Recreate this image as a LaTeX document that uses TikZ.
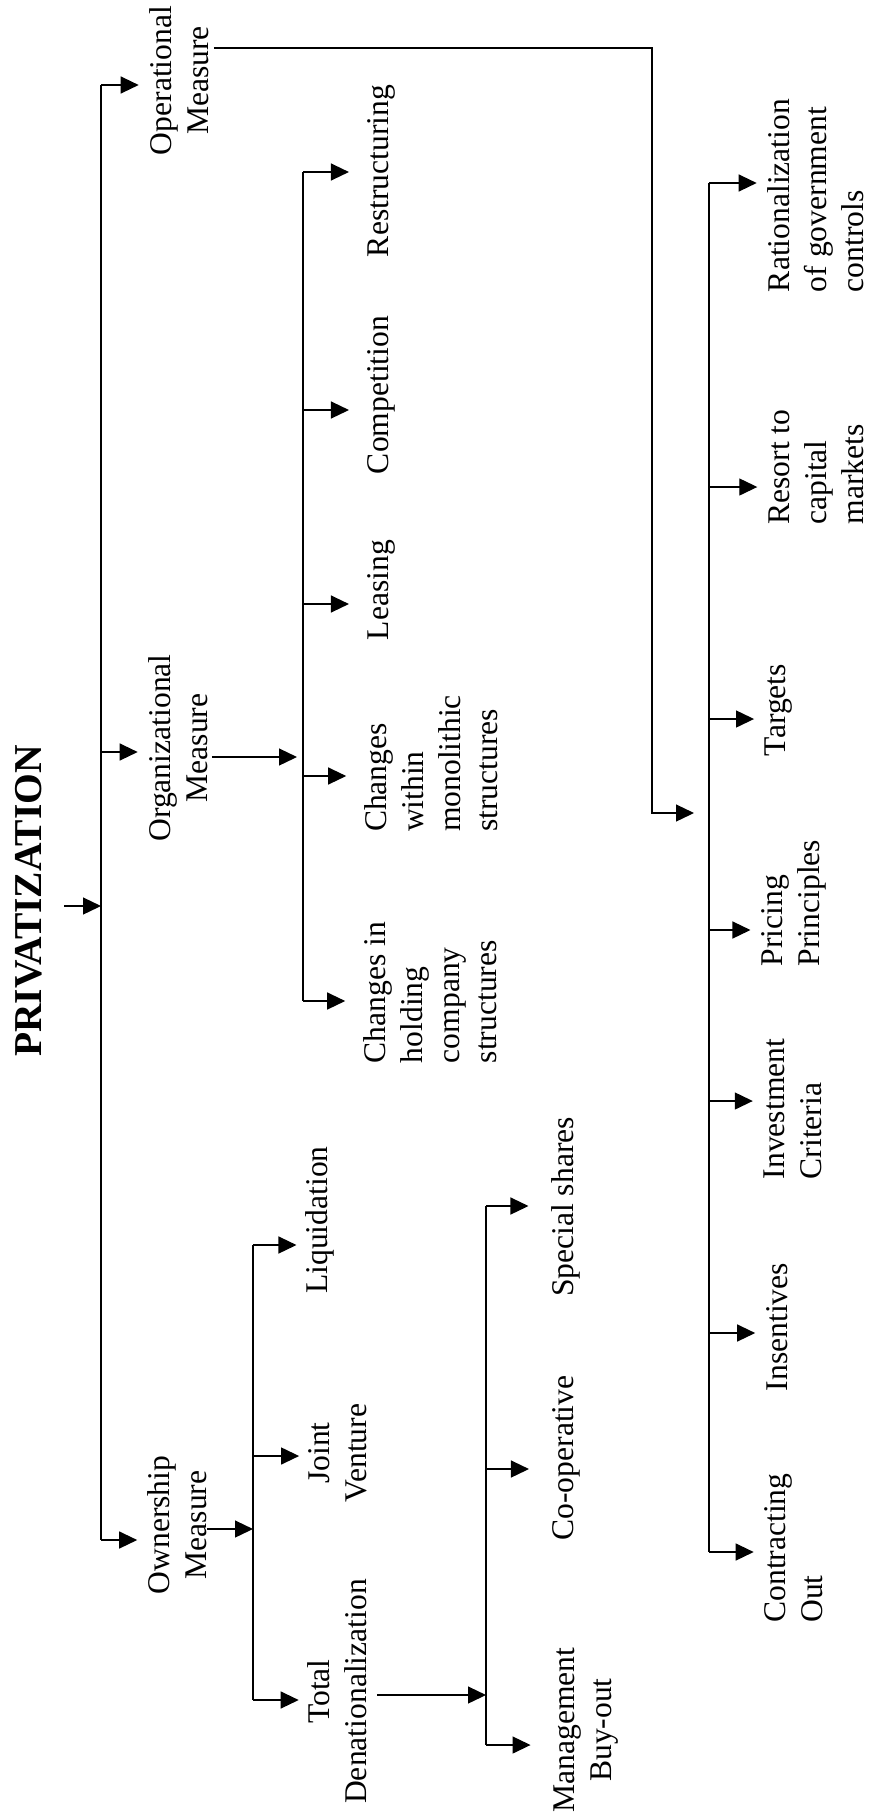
\documentclass[tikz,border=0pt]{standalone}
\usepackage{fontspec}
\setmainfont{Liberation Serif}
\usetikzlibrary{arrows.meta}
\begin{document}
\begin{tikzpicture}[x=1pt,y=-1pt,
  lbl/.style={rotate=90,inner sep=0pt,font=\fontsize{31.6}{37}\selectfont},
  lblc/.style={lbl,align=center},
  lbll/.style={lbl,align=left},
  ln/.style={line width=1.3pt},
  arr/.style={ln,-{Triangle[length=18pt,width=17pt]}},
  arrA/.style={arr,shorten >=10.5pt},
  arrB/.style={arr,shorten >=18pt},
  arrC/.style={arr,shorten >=11pt},
  arrD/.style={arr,shorten >=9pt},
  arrE/.style={arr,shorten >=23pt}]
\useasboundingbox (0,0) rectangle (869,1816);

% ---- text nodes ----
\node[lbl,font=\bfseries\fontsize{39.5}{45}\selectfont] (title) at (28.5,901) {PRIVATIZATION};
\node[lblc] (opm) at (179,80.5) {Operational\\Measure};
\node[lblc] (orgm) at (178,748) {Organizational\\Measure};
\node[lblc] (own) at (177.5,1525) {Ownership\\Measure};

\node[lbl] (restr) at (381,171) {Restructuring};
\node[lbl] (comp) at (381,395) {Competition};
\node[lbl] (leas) at (381,590) {Leasing};
\node[lbll] (chw) at (431,763.5) {Changes\\within\\monolithic\\structures};
\node[lbll] (chh) at (430,992.5) {Changes in\\holding\\company\\structures};

\node[lbl] (liq) at (320,1220) {Liquidation};
\node[lblc] (jv) at (337.5,1453) {Joint\\Venture};
\node[lblc] (tot) at (337.5,1691.5) {Total\\Denationalization};

\node[lbl] (spec) at (566,1207) {Special shares};
\node[lbl] (coop) at (566,1458) {Co-operative};
\node[lblc] (mbo) at (586,1730) {Management\\Buy-out};

\node[lbll] (rat) at (816,195.5) {Rationalization\\of government\\controls};
\node[lbll] (res) at (816,467) {Resort to\\capital\\markets};
\node[lbl] (targ) at (779,710) {Targets};
\node[lbll] (pric) at (794,903) {Pricing\\Principles};
\node[lbll] (inv) at (793,1109) {Investment\\Criteria};
\node[lbl] (ins) at (777,1327) {Insentives};
\node[lbll] (con) at (794,1548) {Contracting\\Out};

% ---- spine points ----
\coordinate (s1a) at (101,85);
\coordinate (s1b) at (101,752);
\coordinate (s1c) at (101,1540);
\coordinate (s1t) at (101,906);

\coordinate (s3a) at (303,172);
\coordinate (s3b) at (303,410);
\coordinate (s3c) at (303,604);
\coordinate (s3d) at (303,776);
\coordinate (s3e) at (303,1001);
\coordinate (s3o) at (303,757);

\coordinate (s2a) at (709,183);
\coordinate (s2b) at (709,487);
\coordinate (s2c) at (709,719);
\coordinate (s2d) at (709,930);
\coordinate (s2e) at (709,1101);
\coordinate (s2f) at (709,1333);
\coordinate (s2g) at (709,1552);
\coordinate (s2o) at (709,813);
\coordinate (opc) at (652,48);

\coordinate (s4a) at (253,1245);
\coordinate (s4b) at (253,1456);
\coordinate (s4c) at (253,1700);
\coordinate (s4o) at (253,1529);

\coordinate (s5a) at (486,1206);
\coordinate (s5b) at (486,1469);
\coordinate (s5c) at (486,1745);
\coordinate (s5o) at (486,1695);

% ---- spines ----
\draw[ln] (s1a) -- (s1c);
\draw[ln] (s3a) -- (s3e);
\draw[ln] (s2a) -- (s2g);
\draw[ln] (s4a) -- (s4c);
\draw[ln] (s5a) -- (s5c);

% ---- branches ----
\draw[arr,shorten <=22pt] (title.south |- s1t) -- (s1t);
\draw[arrA] (s1a) -- (s1a -| opm.north);
\draw[arrA] (s1b) -- (s1b -| orgm.north);
\draw[arrA] (s1c) -- (s1c -| own.north);

\draw[arr,shorten <=4pt,shorten >=6pt] (orgm.south |- s3o) -- (s3o);
\draw[arrB] (s3a) -- (s3a -| restr.north);
\draw[arrB] (s3b) -- (s3b -| comp.north);
\draw[arrB] (s3c) -- (s3c -| leas.north);
\draw[arrB] (s3d) -- (s3d -| chw.north);
\draw[arrB] (s3e) -- (s3e -| chh.north);

\draw[arr,shorten <=5pt,shorten >=15pt] (opm.south |- opc) -- (opc) |- (s2o);
\draw[arrC] (s2a) -- (s2a -| rat.north);
\draw[arrC] (s2b) -- (s2b -| res.north);
\draw[arrC] (s2c) -- (s2c -| targ.north);
\draw[arrC] (s2d) -- (s2d -| pric.north);
\draw[arrC] (s2e) -- (s2e -| inv.north);
\draw[arrC] (s2f) -- (s2f -| ins.north);
\draw[arrC] (s2g) -- (s2g -| con.north);

\draw[arr] (own.south |- s4o) -- (s4o);
\draw[arrD] (s4a) -- (s4a -| liq.north);
\draw[arrD] (s4b) -- (s4b -| jv.north);
\draw[arrD] (s4c) -- (s4c -| tot.north);

\draw[arr,shorten <=10pt] (tot.south |- s5o) -- (s5o);
\draw[arrE] (s5a) -- (s5a -| spec.north);
\draw[arrE] (s5b) -- (s5b -| coop.north);
\draw[arrE] (s5c) -- (s5c -| mbo.north);
\end{tikzpicture}
\end{document}
